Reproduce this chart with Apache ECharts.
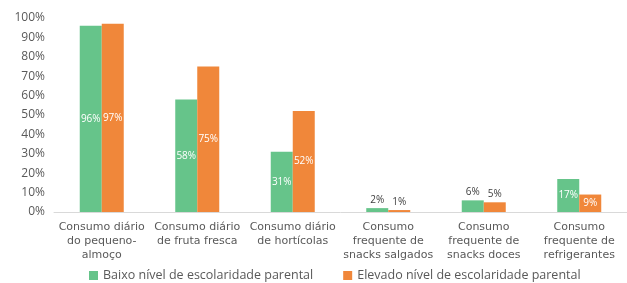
<!DOCTYPE html>
<html>
<head>
<meta charset="utf-8">
<script src="https://cdn.jsdelivr.net/npm/echarts@6/dist/echarts.min.js"></script>
<style>
  html, body { margin: 0; padding: 0; background: #fff; }
  #chart { width: 627px; height: 283px; }
</style>
</head>
<body>
<div id="chart"></div>
<script>
// dados
var categorias = [
    'Consumo diário\ndo pequeno-\nalmoço',
    'Consumo diário\nde fruta fresca',
    'Consumo diário\nde hortícolas',
    'Consumo\nfrequente de\nsnacks salgados',
    'Consumo\nfrequente de\nsnacks doces',
    'Consumo\nfrequente de\nrefrigerantes'
];
var nomesSeries = ['Baixo nível de escolaridade parental', 'Elevado nível de escolaridade parental'];
var baixo = [96, 58, 31, 2, 6, 17];
var elevado = [97, 75, 52, 1, 5, 9];
var ticksY = [0, 10, 20, 30, 40, 50, 60, 70, 80, 90, 100];

(function(){

    var chart = echarts.init(document.getElementById('chart'));
    var font = '"Open Sans", "Noto Sans", sans-serif';

    // rotulo dentro da barra para valores maiores, em cima para os pequenos
    function pontos(valores) {
        return valores.map(function(v){
            if (v >= 9) {
                return { value: v, label: { position: 'inside', color: '#fff' } };
            }
            return { value: v, label: { position: 'top', color: '#404040', distance: 3 } };
        });
    }

    var option = {
        animation: false,
        textStyle: { fontFamily: font },
        grid: {
            left: 54,
            right: -12,
            top: 18,
            bottom: 71
        },
        legend: {
            top: 264,
            left: 84,
            itemWidth: 9,
            itemHeight: 9,
            itemGap: 30,
            icon: 'rect',
            textStyle: { fontSize: 12.5, color: '#595959', fontFamily: font },
            data: nomesSeries
        },
        xAxis: {
            type: 'category',
            data: categorias,
            axisLine: { lineStyle: { color: '#d9d9d9' } },
            axisTick: { show: false },
            axisLabel: {
                fontSize: 11,
                color: '#595959',
                lineHeight: 14,
                margin: 8,
                interval: 0,
                fontFamily: 'DejaVu Sans'
            }
        },
        yAxis: {
            type: 'value',
            min: 0,
            max: 100,
            interval: 10,
            splitLine: { show: false },
            axisLine: { show: false },
            axisLabel: {
                fontSize: 12,
                color: '#595959',
                margin: 9,
                formatter: function(v){ return ticksY.indexOf(v) >= 0 ? v + '%' : ''; }
            }
        },
        series: [
            {
                name: nomesSeries[0],
                type: 'bar',
                barWidth: 22,
                barGap: '0%',
                itemStyle: { color: '#66C48A' },
                label: { show: true, fontSize: 10, formatter: '{c}%' },
                data: pontos(baixo)
            },
            {
                name: nomesSeries[1],
                type: 'bar',
                barWidth: 22,
                barGap: '0%',
                itemStyle: { color: '#F0873A' },
                label: { show: true, fontSize: 10, formatter: '{c}%' },
                data: pontos(elevado)
            }
        ]
    };

    chart.setOption(option);
})();
</script>
</body>
</html>
